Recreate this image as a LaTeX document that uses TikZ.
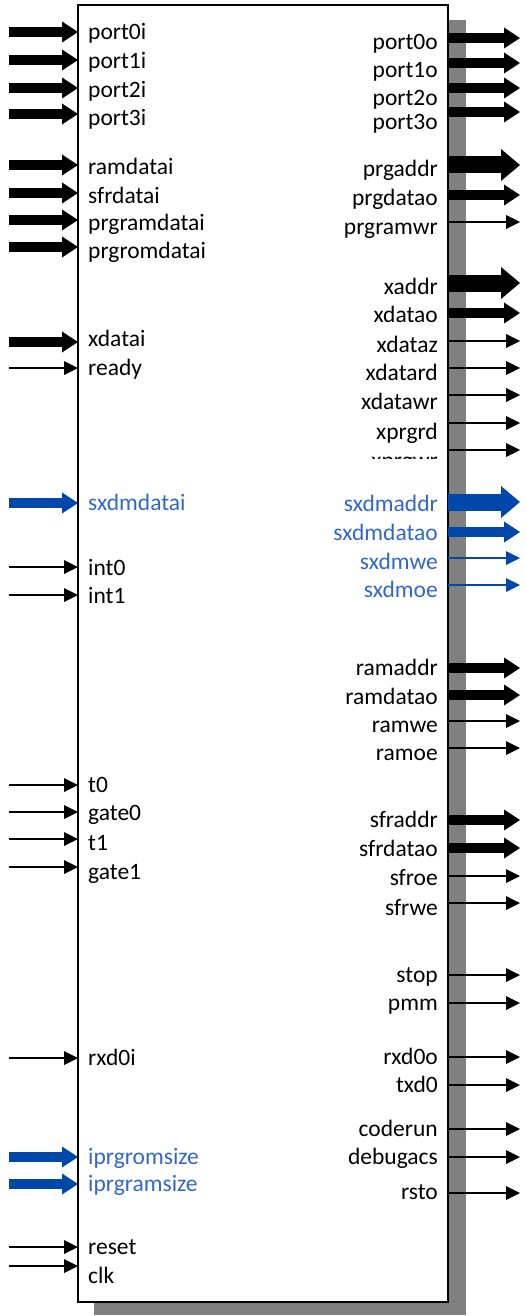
\documentclass[tikz,border=0pt]{standalone}
\usepackage{fontspec}
\setmainfont{Carlito}
\usepackage{tikz}
\usetikzlibrary{arrows.meta}

\definecolor{busblue}{RGB}{0,71,171}
\definecolor{lblblue}{RGB}{51,102,204}
\definecolor{shadowgray}{RGB}{128,128,128}

\tikzset{
  bus/.style={line width=10.5pt, -{Triangle[length=16pt,width=21pt,line width=0pt]}},
  widebus/.style={line width=17pt, -{Triangle[length=19pt,width=32pt,line width=0pt]}},
  sig/.style={line width=2pt, -{Triangle[length=14pt,width=14pt,line width=0pt]}},
  pinlbl/.style={inner sep=0pt, yshift=-5pt, font=\fontsize{23.5}{28}\selectfont},
  inlbl/.style={pinlbl, anchor=mid west},
  outlbl/.style={pinlbl, anchor=mid east}
}

\begin{document}
\begin{tikzpicture}[x=1pt, y=-1pt]
        \useasboundingbox (0,0) rectangle (525,1316);

        % Core block with shadow
        \fill[shadowgray] (94,20) rectangle (466,1315);
        \node[draw, fill=white, line width=2pt, outer sep=0pt, anchor=north west,
              minimum width=370pt, minimum height=1297pt] (core) at (78,5) {};

        % Inputs
        \foreach \ya/\yt/\nm/\st in {32/32/port0i/bus, 60/61/port1i/bus, 88/90/port2i/bus,
                114/118/port3i/bus, 165/167/ramdatai/bus, 193/196/sfrdatai/bus,
                220/223/prgramdatai/bus, 247/251/prgromdatai/bus, 342/339/xdatai/bus,
                368/368/ready/sig, 567/568/int0/sig, 595/596/int1/sig,
                785/785/t0/sig, 812/813/gate0/sig, 839/843/t1/sig, 867/872/gate1/sig,
                1058/1058/rxd0i/sig, 1247/1247/reset/sig, 1266/1276/clk/sig} {
            \coordinate (\nm-src) at (9,\ya);
            \draw[\st] (\nm-src) -- (\nm-src -| core.west);
            \node[inlbl] (\nm) at (88,\yt) {\nm};
        }
        \foreach \ya/\yt/\nm in {503/503/sxdmdatai, 1157/1157/iprgromsize, 1184/1184/iprgramsize} {
            \coordinate (\nm-src) at (9,\ya);
            \draw[bus, busblue] (\nm-src) -- (\nm-src -| core.west);
            \node[inlbl, text=lblblue] (\nm) at (88,\yt) {\nm};
        }

        % Outputs
        \foreach \ya/\yt/\nm/\st in {38/42/port0o/bus, 63/70/port1o/bus, 88/98/port2o/bus,
                165/169/prgaddr/widebus, 195/198/prgdatao/bus, 222/227/prgramwr/sig,
                283/287/xaddr/widebus, 313/315/xdatao/bus, 341/345/xdataz/sig,
                368/373/xdatard/sig, 395/402/xdatawr/sig, 423/432/xprgrd/sig,
                668/668/ramaddr/bus, 695/697/ramdatao/bus, 721/725/ramwe/sig, 748/753/ramoe/sig,
                820/820/sfraddr/bus, 848/849/sfrdatao/bus, 876/878/sfroe/sig, 903/908/sfrwe/sig,
                975/975/stop/sig, 1003/1003/pmm/sig, 1057/1057/rxd0o/sig, 1085/1085/txd0/sig,
                1129/1129/coderun/sig, 1157/1157/debugacs/sig, 1193/1192/rsto/sig} {
            \coordinate (\nm-dst) at (520,\ya);
            \draw[\st] (\nm-dst -| core.east) -- (\nm-dst);
            \node[outlbl] (\nm) at (438,\yt) {\nm};
        }
        \foreach \ya/\yt/\nm/\st in {502/504/sxdmaddr/widebus, 532/533/sxdmdatao/bus,
                558/562/sxdmwe/sig, 585/590/sxdmoe/sig} {
            \coordinate (\nm-dst) at (520,\ya);
            \draw[\st, busblue] (\nm-dst -| core.east) -- (\nm-dst);
            \node[outlbl, text=lblblue] (\nm) at (438,\yt) {\nm};
        }

        % cut-off labels
        \coordinate (port3o-dst) at (520,112);
        \draw[bus] (port3o-dst -| core.east) -- (port3o-dst);
        \begin{scope}
            \clip (300,100) rectangle (447,133);
            \node[outlbl] (port3o) at (438,122) {port3o};
        \end{scope}
        \coordinate (xprgwr-dst) at (520,450);
        \draw[sig] (xprgwr-dst -| core.east) -- (xprgwr-dst);
        \begin{scope}
            \clip (300,440) rectangle (447,458);
            \node[outlbl] (xprgwr) at (438,461) {xprgwr};
        \end{scope}
    \end{tikzpicture}
\end{document}
